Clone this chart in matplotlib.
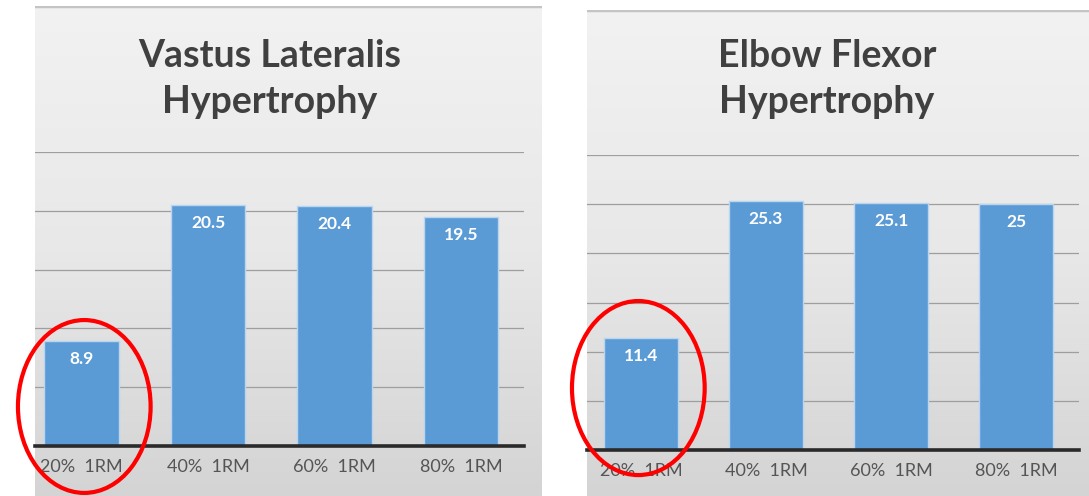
import numpy as np
import matplotlib.pyplot as plt
from matplotlib.patches import Ellipse
from matplotlib.colors import LinearSegmentedColormap

# dados
categorias = ['20%  1RM', '40%  1RM', '60%  1RM', '80%  1RM']
vastus = [8.9, 20.5, 20.4, 19.5]
elbow = [11.4, 25.3, 25.1, 25]
titulos = ['Vastus Lateralis\nHypertrophy', 'Elbow Flexor\nHypertrophy']
yticks_vastus = [0, 5, 10, 15, 20, 25]
yticks_elbow = [0, 5, 10, 15, 20, 25, 30]

plt.rcParams['font.family'] = ['Lato', 'DejaVu Sans']

W, H = 1089, 496
fig = plt.figure(figsize=(W / 100, H / 100), dpi=100)
fig.patch.set_facecolor('white')


def caixa(x0, y0, x1, y1):
    # retangulo em pixels (origem no topo) -> fracao da figura
    return [x0 / W, 1 - y1 / H, (x1 - x0) / W, (y1 - y0) / H]


cmap_bg = LinearSegmentedColormap.from_list('bg', ['#f2f2f2', '#e8e8e8', '#d4d4d4'])
grad = np.linspace(0, 1, 256).reshape(-1, 1)

paineis = [
    dict(valores=vastus, yticks=yticks_vastus, titulo=titulos[0],
         fundo=(35, 6, 542, 496), eixo=(35, 152, 524, 446), xlim=(-0.37, 3.5),
         tx=270, elipse=(0.02, 3.36, 1.05, 14.7)),
    dict(valores=elbow, yticks=yticks_elbow, titulo=titulos[1],
         fundo=(587, 10, 1089, 496), eixo=(587, 155, 1079, 450), xlim=(-0.43, 3.5),
         tx=827, elipse=(-0.02, 6.3, 1.06, 17.7)),
]

for p in paineis:
    # fundo cinza com degrade
    bg = fig.add_axes(caixa(*p['fundo']))
    bg.imshow(grad, cmap=cmap_bg, aspect='auto', extent=(0, 1, 0, 1), origin='upper')
    bg.axhline(1, color='#c4c4c4', lw=2.5)
    bg.set_xlim(0, 1)
    bg.set_ylim(0, 1)
    bg.axis('off')

    ax = fig.add_axes(caixa(*p['eixo']))
    ax.set_facecolor('none')
    x = np.arange(len(categorias))
    barras = ax.bar(x, p['valores'], width=0.59, color='#5B9BD5',
                    edgecolor='#b9d5ef', linewidth=1, zorder=3)
    for b, v in zip(barras, p['valores']):
        ax.annotate(f'{v:g}', (b.get_x() + b.get_width() / 2, v),
                    xytext=(0, -13), textcoords='offset points',
                    ha='center', va='center', color='white',
                    fontsize=12.5, fontweight='bold', zorder=4)

    ax.set_xlim(*p['xlim'])
    ax.set_ylim(p['yticks'][0], p['yticks'][-1])
    ax.set_yticks(p['yticks'])
    ax.set_yticklabels([])
    ax.yaxis.grid(True, color='#9e9e9e', lw=0.9, zorder=0)
    ax.set_xticks(x, categorias)
    ax.tick_params(axis='both', length=0)
    ax.tick_params(axis='x', pad=9, labelsize=13, labelcolor='#555555')
    for s in ['top', 'left', 'right']:
        ax.spines[s].set_visible(False)
    ax.spines['bottom'].set_color('#2a2a2a')
    ax.spines['bottom'].set_linewidth(2.6)
    ax.spines['bottom'].set_zorder(5)

    # circulo vermelho no primeiro grupo
    cx, cy, ew, eh = p['elipse']
    ax.add_patch(Ellipse((cx, cy), ew, eh, fill=False, edgecolor='#ff0000',
                         lw=3, clip_on=False, zorder=10))

    fig.text(p['tx'] / W, 1 - 79 / H, p['titulo'], ha='center', va='center',
             fontsize=27, fontweight='bold', color='#404040', linespacing=1.4)

fig.savefig('out.png', dpi=100)
